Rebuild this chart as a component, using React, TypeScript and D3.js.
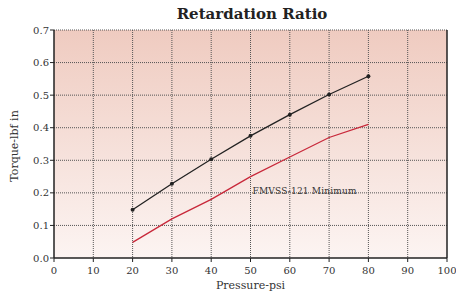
import React, { useEffect, useRef } from 'react'
import * as d3 from 'd3'

const pressure = [20, 30, 40, 50, 60, 70, 80]
const measured = [0.148, 0.228, 0.303, 0.375, 0.44, 0.502, 0.558]
const fmvssMin = [0.048, 0.12, 0.18, 0.25, 0.31, 0.37, 0.41]
const xTicks = [0, 10, 20, 30, 40, 50, 60, 70, 80, 90, 100]
const yTicks = [0, 0.1, 0.2, 0.3, 0.4, 0.5, 0.6, 0.7]

const W = 456
const H = 298
const m = { top: 30, right: 9, bottom: 40, left: 54 }

const App = () => {
  const ref = useRef<SVGSVGElement>(null)

  useEffect(() => {
    const svg = d3.select(ref.current)
    svg.selectAll('*').remove()
    const w = W - m.left - m.right
    const h = H - m.top - m.bottom
    const font = '"DejaVu Serif", serif'

    const defs = svg.append('defs')
    const grad = defs.append('linearGradient').attr('id', 'bg').attr('x1', 0).attr('y1', 0).attr('x2', 0).attr('y2', 1)
    grad.append('stop').attr('offset', '0%').attr('stop-color', '#efcbc0')
    grad.append('stop').attr('offset', '100%').attr('stop-color', '#fcf4f2')

    const g = svg.append('g').attr('transform', `translate(${m.left},${m.top})`)

    const x = d3.scaleLinear().domain([0, 100]).range([0, w])
    const y = d3.scaleLinear().domain([0, 0.7]).range([h, 0])

    g.append('rect').attr('width', w).attr('height', h).attr('fill', 'url(#bg)')

    // grid
    g.selectAll('.vg')
      .data(xTicks.slice(1, -1))
      .enter()
      .append('line')
      .attr('x1', (d) => x(d))
      .attr('x2', (d) => x(d))
      .attr('y1', 0)
      .attr('y2', h)
      .attr('stroke', '#555')
      .attr('stroke-width', 1)
      .attr('stroke-dasharray', '1,1')
    g.selectAll('.hg')
      .data(yTicks.slice(1))
      .enter()
      .append('line')
      .attr('x1', 0)
      .attr('x2', w)
      .attr('y1', (d) => y(d))
      .attr('y2', (d) => y(d))
      .attr('stroke', '#555')
      .attr('stroke-width', 1)
      .attr('stroke-dasharray', '1,1')

    // frame
    g.append('line').attr('x1', 0).attr('x2', 0).attr('y1', 0).attr('y2', h).attr('stroke', '#222').attr('stroke-width', 1.5)
    g.append('line').attr('x1', w).attr('x2', w).attr('y1', 0).attr('y2', h).attr('stroke', '#222').attr('stroke-width', 1.5)
    g.append('line').attr('x1', 0).attr('x2', w).attr('y1', h).attr('y2', h).attr('stroke', '#222').attr('stroke-width', 1.5)

    // ticks
    g.selectAll('.xt')
      .data(xTicks)
      .enter()
      .append('line')
      .attr('x1', (d) => x(d))
      .attr('x2', (d) => x(d))
      .attr('y1', h)
      .attr('y2', h + 4)
      .attr('stroke', '#222')
    g.selectAll('.yt')
      .data(yTicks)
      .enter()
      .append('line')
      .attr('x1', -4)
      .attr('x2', 0)
      .attr('y1', (d) => y(d))
      .attr('y2', (d) => y(d))
      .attr('stroke', '#222')

    g.selectAll('.xl')
      .data(xTicks)
      .enter()
      .append('text')
      .attr('x', (d) => x(d))
      .attr('y', h + 16)
      .attr('text-anchor', 'middle')
      .attr('font-family', font)
      .attr('font-size', 10)
      .attr('fill', '#333')
      .text((d) => d)
    g.selectAll('.yl')
      .data(yTicks)
      .enter()
      .append('text')
      .attr('x', -5)
      .attr('y', (d) => y(d) + 3.5)
      .attr('text-anchor', 'end')
      .attr('font-family', font)
      .attr('font-size', 10)
      .attr('fill', '#333')
      .text((d) => d.toFixed(1))

    // lines
    const line = d3
      .line<number>()
      .x((_, i) => x(pressure[i]))
      .y((d) => y(d))

    g.append('path').datum(fmvssMin).attr('fill', 'none').attr('stroke', '#c8283a').attr('stroke-width', 1.3).attr('d', line)
    g.append('path').datum(measured).attr('fill', 'none').attr('stroke', '#222').attr('stroke-width', 1.3).attr('d', line)
    g.selectAll('.pt')
      .data(measured)
      .enter()
      .append('circle')
      .attr('cx', (_, i) => x(pressure[i]))
      .attr('cy', (d) => y(d))
      .attr('r', 2)
      .attr('fill', '#222')

    g.append('text')
      .attr('x', x(50.5))
      .attr('y', y(0.2) + 1)
      .attr('font-family', font)
      .attr('font-size', 9)
      .attr('textLength', 104)
      .attr('fill', '#333')
      .text('FMVSS-121 Minimum')

    // titles
    svg.append('text')
      .attr('x', 252)
      .attr('y', 19)
      .attr('text-anchor', 'middle')
      .attr('font-family', font)
      .attr('font-weight', 'bold')
      .attr('font-size', 15)
      .attr('fill', '#222')
      .text('Retardation Ratio')
    svg.append('text')
      .attr('x', m.left + w / 2)
      .attr('y', 289)
      .attr('text-anchor', 'middle')
      .attr('font-family', font)
      .attr('font-size', 11)
      .attr('fill', '#333')
      .text('Pressure-psi')
    svg.append('text')
      .attr('transform', `translate(18,${m.top + h / 2 + 2}) rotate(-90)`)
      .attr('text-anchor', 'middle')
      .attr('font-family', font)
      .attr('font-size', 11)
      .attr('fill', '#333')
      .text('Torque-lbf in')
  })

  return (
    <svg ref={ref} width={W} height={H} style={{ position: 'absolute', left: 0, top: 0 }} />
  )
}

export default App
